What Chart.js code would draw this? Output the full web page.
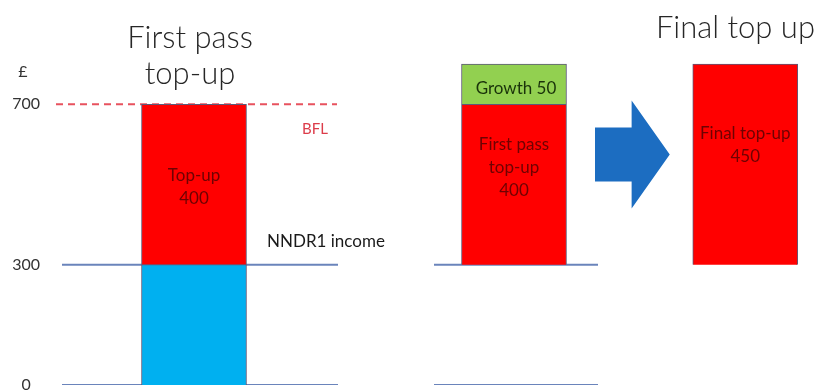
<!DOCTYPE html>
<html><head><meta charset="utf-8">
<script src="https://cdn.jsdelivr.net/npm/chart.js@4.4.1/dist/chart.umd.min.js"></script>
<style>html,body{margin:0;padding:0;background:#fff;overflow:hidden}#wrap{width:819px;height:392px}</style>
</head><body><div id="wrap"><canvas id="c" width="819" height="392"></canvas></div>
<script>
// ---- data ----
const yTickValues = [0, 300, 700];
const yUnitLabel = '£';
const columns = ['First pass top-up', 'Growth', 'Final top up'];
const columnX = [6, 18.8, 28.05];                 // column positions on the horizontal axis
const incomeRange = [[0, 300]];                   // NNDR1 income (blue), column 0
const topUpRanges = [[300, 700], [300, 700], [300, 800]]; // red bars, columns 0..2 (schematic height)
const growthRange = [[700, 800]];                 // green segment, column 1 (schematic height)
const barLabels = [['Top-up', '400'], ['First pass', 'top-up', '400'], ['Final top-up', '450']];
const growthLabel = 'Growth 50';
const panelTitleLeft = ['First pass', 'top-up'];
const panelTitleRight = ['Final top up'];
const bflLevel = 700, bflLabel = 'BFL';
const nndr1Level = 300, nndr1Label = 'NNDR1 income';
const baseLevel = 0;
const leftLineSpan = [0.72, 11.76];
const dashSpan = [0.48, 11.72];
const midLineSpan = [15.6, 22.16];

const FONT = 'Lato, "Open Sans", sans-serif';
const lineColor = '#6a84bb';

const decor = {
  id: 'decor',
  afterDatasetsDraw(chart) {
    const c = chart.ctx, ys = chart.scales.y;
    const red = chart.getDatasetMeta(1).data;
    const green = chart.getDatasetMeta(2).data[0];
    c.save();
    // arrow between column 2 and 3
    const b2 = red[1], b3 = red[2];
    const l = b2.x + b2.width / 2 + 28.5, r = b3.x - b3.width / 2 - 23;
    const my = ys.getPixelForValue(575);
    const neck = l + (r - l) * 0.49;
    c.fillStyle = '#1c6dc1';
    c.beginPath();
    c.moveTo(l, my - 27); c.lineTo(neck, my - 27); c.lineTo(neck, my - 54);
    c.lineTo(r, my); c.lineTo(neck, my + 54); c.lineTo(neck, my + 27);
    c.lineTo(l, my + 27); c.closePath(); c.fill();

    c.textAlign = 'center'; c.textBaseline = 'middle';
    // labels inside red bars
    const shifts = [-9, -40, -31];
    c.fillStyle = '#6e0202';
    c.font = '17px ' + FONT;
    red.forEach((el, i) => {
      const lines = barLabels[i];
      const cy = (el.y + el.base) / 2 + shifts[i];
      lines.forEach((t, k) => c.fillText(t, el.x, cy + k * 23));
    });
    // growth label
    c.fillStyle = '#1a330a';
    c.font = '17px ' + FONT;
    c.fillText(growthLabel, green.x + 2, (green.y + green.base) / 2 + 4);
    // reference labels
    c.textAlign = 'left';
    c.fillStyle = '#dc3c4a';
    c.font = '15px ' + FONT;
    c.fillText(bflLabel, 302, ys.getPixelForValue(bflLevel) + 25);
    c.fillStyle = '#1a1a1a';
    c.font = '17px ' + FONT;
    c.fillText(nndr1Label, 267, ys.getPixelForValue(nndr1Level) - 23);
    // unit
    c.textAlign = 'center';
    c.fillStyle = '#333';
    c.font = '16px ' + FONT;
    c.fillText(yUnitLabel, 23, ys.getPixelForValue(bflLevel) - 32);
    // panel titles
    c.fillStyle = '#262626';
    c.font = '300 31px ' + FONT;
    panelTitleLeft.forEach((t, k) => c.fillText(t, 190, 38 + k * 36));
    c.textAlign = 'right';
    c.fillText(panelTitleRight[0], 815, 28);
    c.restore();
  }
};

const hline = (span, level, extra) => Object.assign({
  type: 'line', data: span.map(x => ({ x, y: level })),
  borderColor: lineColor, borderWidth: 2, pointRadius: 0, order: 2, fill: false
}, extra || {});

new Chart(document.getElementById('c'), {
  type: 'bar',
  data: {
    datasets: [
      { label: 'NNDR1 income', data: incomeRange.map(r => ({ x: columnX[0], y: r })), backgroundColor: '#00b0f0', order: 0 },
      { label: 'Top-up', data: topUpRanges.map((r, i) => ({ x: columnX[i], y: r })), backgroundColor: '#ff0000', order: 0 },
      { label: 'Growth', data: growthRange.map(r => ({ x: columnX[1], y: r })), backgroundColor: '#92d050', order: 0 },
      hline(dashSpan, bflLevel, { borderColor: '#e8525e', borderDash: [7, 5] }),
      hline(leftLineSpan, nndr1Level),
      hline(leftLineSpan, baseLevel),
      hline(midLineSpan, nndr1Level),
      hline(midLineSpan, baseLevel)
    ]
  },
  options: {
    responsive: false, animation: false,
    layout: { padding: { left: 0, right: 0, top: 0, bottom: 7 } },
    plugins: { legend: { display: false }, tooltip: { enabled: false } },
    datasets: { bar: { grouped: false, barThickness: 105, borderWidth: 1, borderColor: '#5d5878' } },
    scales: {
      x: { type: 'linear', min: 0, max: 31, offset: false, display: false },
      y: {
        min: 0, max: 960,
        grid: { display: false, drawTicks: false }, border: { display: false },
        afterBuildTicks: s => { s.ticks = yTickValues.map(v => ({ value: v })); },
        afterFit: s => { s.width = 44; s.paddingTop = 0; s.paddingBottom = 0; },
        ticks: { font: { family: FONT, size: 16 }, color: '#333', padding: 4, crossAlign: 'center' }
      }
    }
  },
  plugins: [decor]
});
</script></body></html>
